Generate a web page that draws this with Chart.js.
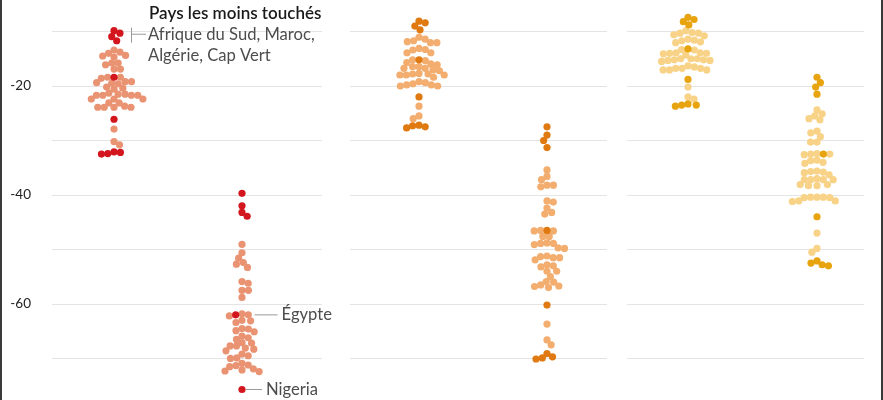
<!DOCTYPE html>
<html><head><meta charset="utf-8">
<script src="https://cdn.jsdelivr.net/npm/chart.js@4/dist/chart.umd.min.js"></script>
<style>
html,body{margin:0;padding:0;background:#fff;}
#wrap{position:relative;width:883px;height:400px;overflow:hidden;}
#lb{position:absolute;left:0;top:0;width:2px;height:400px;background:#3a3a3a;}
#rb{position:absolute;left:881px;top:0;width:2px;height:400px;background:#3a3a3a;}
canvas{display:block;}
</style></head>
<body><div id="wrap"><canvas id="c" width="883" height="400"></canvas><div id="lb"></div><div id="rb"></div></div>
<script>
// ---- data (percent change) ----
const swarmNames = ['p1a','p1b','p2a','p2b','p3a','p3b'];
const s1Key  = [-9.85,-10.3,-10.95,-11.7,-18.4,-26.1,-32.1,-32.2,-32.4,-32.5];
const s1Base = [-13.4,-13.8,-14.0,-14.4,-14.5,-14.7,-15.8,-15.8,-16.1,-16.9,-16.9,-18.4,-18.6,-18.4,
  -19.2,-19.2,-19.5,-19.4,-19.6,-20.2,-20.4,-20.6,-21.3,-21.7,-21.7,-21.7,-21.7,-21.5,-21.5,
  -22.4,-22.4,-22.4,-23.1,-23.1,-23.9,-23.9,-23.9,-23.9,-23.7,-27.9,-30.2,-30.8];
const s2Key  = [-39.7,-42.0,-43.2,-43.9,-62.0,-75.7];
const s2Base = [-49.05,-50.6,-51.6,-52.4,-52.7,-53.3,-55.9,-56.2,-57.5,-57.5,-58.8,-61.8,-62.0,-62.2,
  -63.0,-63.1,-63.4,-64.5,-64.6,-64.9,-65.1,-65.9,-66.2,-66.5,-67.1,-67.2,-67.7,-67.7,-68.1,-68.3,
  -68.6,-69.2,-69.5,-69.9,-70.0,-70.9,-71.2,-71.3,-71.5,-71.9,-72.1,-72.3,-72.4];
const s3Key  = [-8.1,-8.4,-9.0,-9.7,-15.2,-22.0,-27.2,-27.3,-27.5,-27.7];
const s3Base = [-11.06,-11.4,-12.05,-12.05,-11.87,-11.7,-13.3,-13.9,-13.9,-13.4,-13.1,
  -15.2,-15.7,-15.35,-16.1,-15.96,-16.45,-16.75,-16.45,-17.06,-16.75,-17.2,
  -17.8,-17.98,-17.7,-17.98,-18.4,-17.98,-17.8,-19.2,-19.8,-20.0,-20.0,-19.8,-19.6,-19.4,
  -23.7,-25.5,-26.0];
const s4Key  = [-27.5,-29.0,-30.0,-31.3,-46.5,-60.2,-69.1,-69.7,-69.9,-70.1];
const s4Base = [-35.4,-36.6,-37.2,-38.5,-38.2,-38.2,-41.3,-41.1,-42.4,-43.2,-43.5,-46.6,-46.6,-46.5,
  -47.6,-47.6,-48.9,-48.9,-48.8,-49.1,-49.8,-49.7,-51.5,-51.3,-51.5,-51.2,-51.9,-52.8,-53.0,-53.2,
  -54.0,-54.0,-55.0,-56.0,-56.7,-56.8,-56.5,-57.0,-55.9,-63.7,-66.6,-67.5];
const s5Key  = [-7.4,-7.8,-8.2,-8.8,-13.2,-18.8,-23.3,-23.5,-23.5,-23.7];
const s5Base = [-10.3,-10.6,-10.3,-10.8,-10.2,-9.85,-11.6,-12.05,-11.9,-11.4,-11.7,
  -13.4,-14.0,-13.9,-14.3,-14.0,-13.9,-14.1,-13.3,
  -15.0,-15.3,-15.5,-15.2,-15.0,-15.3,-15.2,-15.0,
  -16.3,-16.5,-16.75,-17.06,-17.06,-17.06,-16.75,-16.75,-20.2,-22.0,-22.4];
const s6Key  = [-18.4,-19.4,-20.2,-21.5,-32.5,-44.0,-52.1,-52.5,-52.8,-53.0];
const s6Base = [-24.4,-25.1,-25.5,-26.0,-26.2,-28.3,-28.6,-29.3,-30.3,-30.3,-32.5,-32.6,-32.5,-32.4,
  -33.6,-34.0,-34.2,-33.7,-35.8,-35.9,-35.6,-35.7,-36.3,-37.2,-37.2,-37.2,-37.2,-37.0,
  -38.3,-38.3,-38.1,-38.1,-40.4,-40.4,-40.5,-40.4,-40.5,-41.1,-41.1,-41.2,-47.0,-49.8,-50.5];
const gridValues = [-10,-20,-30,-40,-50,-60,-70];
const labeledTicks = [-20,-40,-60];
const topLabelTitle = 'Pays les moins touchés';
const topLabelLines = ['Afrique du Sud, Maroc,','Algérie, Cap Vert'];
const egyptLabel = 'Égypte';
const nigeriaLabel = 'Nigeria';

// ---- layout / style ----
const swarmKeys = [s1Key,s2Key,s3Key,s4Key,s5Key,s6Key];
const swarmBases = [s1Base,s2Base,s3Base,s4Base,s5Base,s6Base];
const swarmCenters = [114,242,419,547,688,817];
const panels = [[52,322],[350,607],[627,864]];
const keyColors  = ['#d3161e','#d3161e','#e07910','#e07910','#e8a40e','#e8a40e'];
const baseColors = ['#ea9373','#ea9373','#f2ad6f','#f2ad6f','#f8d286','#f8d286'];
const R = 3.6, D = 6.4;
const FONT = 'Lato, "Noto Sans", sans-serif';

const datasets = [];
swarmNames.forEach((n,k)=>{
  datasets.push({label:n+'-key', data: swarmKeys[k].map(v=>({x:swarmCenters[k], y:v})),
    backgroundColor:keyColors[k], borderWidth:0, pointRadius:R, pointHoverRadius:R, order:0});
  datasets.push({label:n+'-base', data: swarmBases[k].map(v=>({x:swarmCenters[k], y:v})),
    backgroundColor:baseColors[k], borderWidth:0, pointRadius:R, pointHoverRadius:R, order:1});
});

const gridPlugin = {
  id:'panelGrid',
  beforeDatasetsDraw(chart){
    const {ctx, scales:{x,y}} = chart;
    ctx.save(); ctx.strokeStyle='#e4e4e4'; ctx.lineWidth=1;
    gridValues.forEach(v=>{
      const py = Math.round(y.getPixelForValue(v))+0.5;
      panels.forEach(([a,b])=>{
        ctx.beginPath(); ctx.moveTo(x.getPixelForValue(a),py); ctx.lineTo(x.getPixelForValue(b),py); ctx.stroke();
      });
    });
    ctx.restore();
  }
};

function rowRight(chart, k, py){
  let mx = -Infinity;
  [2*k, 2*k+1].forEach(ds=>chart.getDatasetMeta(ds).data.forEach(p=>{
    if(Math.abs(p.y-py) < D) mx = Math.max(mx, p.x);
  }));
  return mx;
}

const annoPlugin = {
  id:'anno',
  afterDatasetsDraw(chart){
    const ctx = chart.ctx;
    const m1 = chart.getDatasetMeta(0).data; // swarm 1 key
    const m2 = chart.getDatasetMeta(2).data; // swarm 2 key
    ctx.save();
    // top bracket
    const top4 = m1.slice(0,4);
    const bx = Math.round(Math.max(...top4.map(p=>p.x)) + 11);
    const yT = Math.min(...top4.map(p=>p.y)) - 3, yB = Math.max(...top4.map(p=>p.y)) + 2;
    const ym = (yT+yB)/2 - 1;
    ctx.strokeStyle='#9a9a9a'; ctx.lineWidth=1;
    ctx.beginPath(); ctx.moveTo(bx+0.5,yT); ctx.lineTo(bx+0.5,yB); ctx.moveTo(bx,ym); ctx.lineTo(bx+15,ym); ctx.stroke();
    ctx.textBaseline='middle'; ctx.textAlign='left';
    ctx.fillStyle='#1a1a1a'; ctx.font='600 17px '+FONT;
    ctx.fillText(topLabelTitle, bx+18, ym-21);
    ctx.fillStyle='#4d4d4d'; ctx.font='16.6px '+FONT;
    topLabelLines.forEach((t,i)=>ctx.fillText(t, bx+17, ym+i*21));
    // Egypt
    const eg = m2[4];
    const ex = Math.max(eg.x, rowRight(chart,1,eg.y));
    ctx.beginPath(); ctx.moveTo(ex+4,eg.y); ctx.lineTo(ex+27,eg.y); ctx.stroke();
    ctx.fillText(egyptLabel, ex+31, eg.y);
    const ng = m2[5];
    ctx.beginPath(); ctx.moveTo(ng.x+4,ng.y); ctx.lineTo(ng.x+20,ng.y); ctx.stroke();
    ctx.fillText(nigeriaLabel, ng.x+24, ng.y);
    ctx.restore();
  }
};

const chart = new Chart(document.getElementById('c'), {
  type:'scatter',
  data:{datasets},
  options:{
    responsive:false, animation:false, events:[],
    layout:{padding:{left:0,right:19,top:4.25,bottom:3.4}, autoPadding:false},
    plugins:{legend:{display:false}, tooltip:{enabled:false}},
    scales:{
      x:{type:'linear', min:52, max:864, display:false},
      y:{type:'linear', min:-77, max:-5, grid:{display:false}, border:{display:false},
        afterFit(s){ s.width = 52; s.paddingTop = 0; s.paddingBottom = 0; },
        ticks:{stepSize:10, padding:13, color:'#222', font:{family:FONT, size:13.5},
          callback:(v)=> labeledTicks.includes(v) ? String(v) : ''}}
    }
  },
  plugins:[gridPlugin, annoPlugin]
});

// beeswarm placement computed through the chart's own scales
function swarm(k){
  const ys = chart.scales.y, xs = chart.scales.x;
  const items = [];
  swarmKeys[k].forEach((v,i)=>items.push({ds:2*k, i, py:ys.getPixelForValue(v)}));
  swarmBases[k].forEach((v,i)=>items.push({ds:2*k+1, i, py:ys.getPixelForValue(v)}));
  items.sort((a,b)=>a.py-b.py);
  const placed=[];
  let flip = 1;
  for(const it of items){
    const c=[0];
    for(const p of placed){
      const dy=Math.abs(p.py-it.py);
      if(dy<D){ const dx=Math.sqrt(D*D-dy*dy); c.push(p.px+dx, p.px-dx); }
    }
    c.sort((a,b)=>Math.abs(a)-Math.abs(b) || (a-b)*flip);
    flip = -flip;
    for(const cx of c){
      if(placed.every(p=>(p.px-cx)**2+(p.py-it.py)**2 >= D*D-0.01)){ it.px=cx; break; }
    }
    placed.push(it);
  }
  const cpx = xs.getPixelForValue(swarmCenters[k]);
  items.forEach(it=>{ chart.data.datasets[it.ds].data[it.i].x = xs.getValueForPixel(cpx+it.px); });
}
swarmNames.forEach((n,k)=>swarm(k));
chart.update('none');
</script>
</body></html>
